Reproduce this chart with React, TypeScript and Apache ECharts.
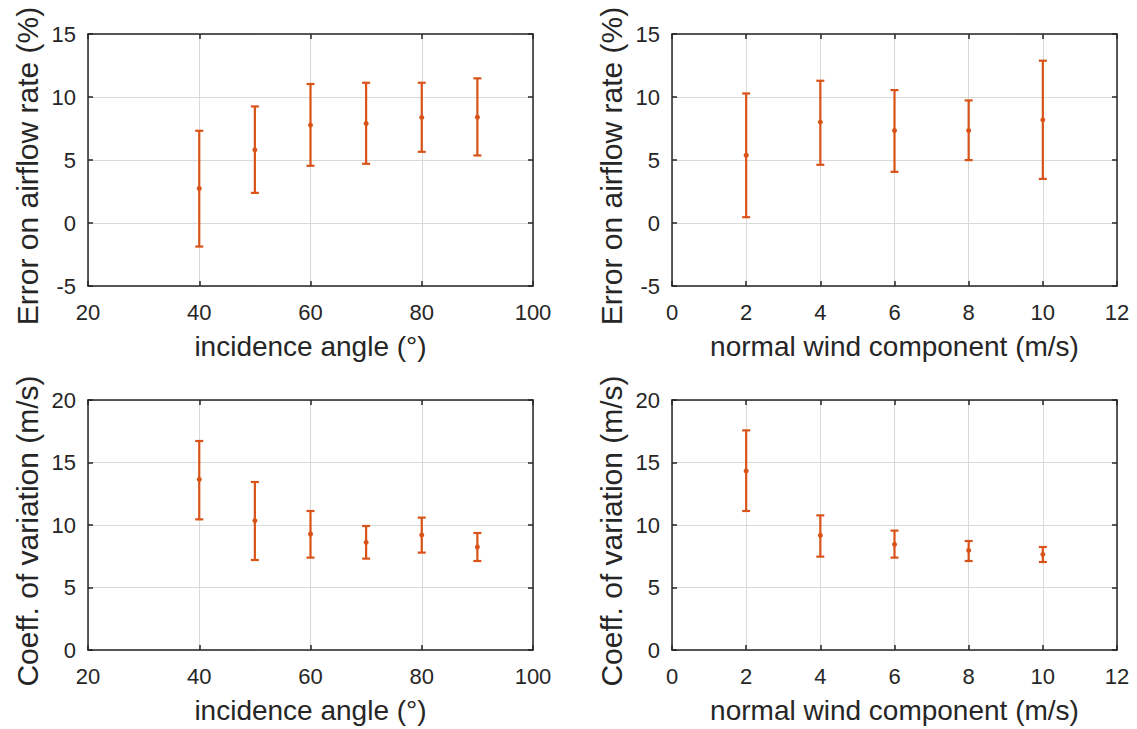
import React, { useEffect, useRef } from "react";
import * as echarts from "echarts";

const angle = [40, 50, 60, 70, 80, 90];
const errAngleMean = [2.74, 5.81, 7.77, 7.9, 8.38, 8.4];
const errAngleLow = [-1.87, 2.39, 4.54, 4.7, 5.65, 5.36];
const errAngleHigh = [7.32, 9.25, 11.03, 11.13, 11.13, 11.48];

const wind = [2, 4, 6, 8, 10];
const errWindMean = [5.38, 8.01, 7.34, 7.34, 8.19];
const errWindLow = [0.46, 4.62, 4.06, 4.99, 3.5];
const errWindHigh = [10.28, 11.29, 10.55, 9.73, 12.88];

const covAngleMean = [13.65, 10.35, 9.28, 8.61, 9.2, 8.24];
const covAngleLow = [10.45, 7.2, 7.39, 7.31, 7.79, 7.12];
const covAngleHigh = [16.72, 13.44, 11.12, 9.92, 10.59, 9.36];

const covWindMean = [14.32, 9.17, 8.45, 7.97, 7.65];
const covWindLow = [11.12, 7.47, 7.39, 7.12, 7.04];
const covWindHigh = [17.57, 10.77, 9.55, 8.72, 8.24];

const xNameAngle = "incidence angle (°)";
const xNameWind = "normal wind component (m/s)";
const yNameErr = "Error on airflow rate (%)";
const yNameCov = "Coeff. of variation (m/s)";

const TEXT = "#262626";
const BAR = "#D95319";
const FONT = "'Liberation Sans', Arial, sans-serif";

function rows(x: number[], m: number[], lo: number[], hi: number[]) {
  return x.map((v, i) => [v, m[i], lo[i], hi[i]]);
}

const renderItem = (params: any, api: any) => {
  const x = api.value(0);
  const c = api.coord([x, api.value(1)]);
  const lo = api.coord([x, api.value(2)]);
  const hi = api.coord([x, api.value(3)]);
  const hw = 4;
  const style = { stroke: BAR, lineWidth: 2.2 };
  return {
    type: "group",
    children: [
      { type: "line", shape: { x1: lo[0], y1: lo[1], x2: hi[0], y2: hi[1] }, style },
      { type: "line", shape: { x1: lo[0] - hw, y1: lo[1], x2: lo[0] + hw, y2: lo[1] }, style },
      { type: "line", shape: { x1: hi[0] - hw, y1: hi[1], x2: hi[0] + hw, y2: hi[1] }, style },
      { type: "circle", shape: { cx: c[0], cy: c[1], r: 2.5 }, style: { fill: BAR } },
    ],
  };
};

export default function App() {
  const ref = useRef<HTMLDivElement>(null);
  useEffect(() => {
    if (!ref.current) return;
    const chart = echarts.init(ref.current, null, { renderer: "svg" });

    const grids = [
      { left: 88, top: 34, width: 445, height: 252 },
      { left: 672, top: 34, width: 445, height: 252 },
      { left: 88, top: 400, width: 445, height: 250 },
      { left: 672, top: 400, width: 445, height: 250 },
    ];
    const xr = [
      { min: 20, max: 100, interval: 20, name: xNameAngle },
      { min: 0, max: 12, interval: 2, name: xNameWind },
      { min: 20, max: 100, interval: 20, name: xNameAngle },
      { min: 0, max: 12, interval: 2, name: xNameWind },
    ];
    const yr = [
      { min: -5, max: 15, interval: 5, name: yNameErr },
      { min: -5, max: 15, interval: 5, name: yNameErr },
      { min: 0, max: 20, interval: 5, name: yNameCov },
      { min: 0, max: 20, interval: 5, name: yNameCov },
    ];
    const data = [
      rows(angle, errAngleMean, errAngleLow, errAngleHigh),
      rows(wind, errWindMean, errWindLow, errWindHigh),
      rows(angle, covAngleMean, covAngleLow, covAngleHigh),
      rows(wind, covWindMean, covWindLow, covWindHigh),
    ];

    const axisLine = { show: true, onZero: false, lineStyle: { color: TEXT, width: 1.5 } };
    const axisTick = { show: true, inside: true, length: 5, lineStyle: { color: TEXT, width: 1.5 } };
    const splitLine = { show: true, lineStyle: { color: "#d9d9d9", width: 1 } };

    const xAxis: any[] = [];
    const yAxis: any[] = [];
    grids.forEach((_, i) => {
      xAxis.push({
        type: "value",
        gridIndex: i,
        position: "bottom",
        min: xr[i].min,
        max: xr[i].max,
        interval: xr[i].interval,
        name: xr[i].name,
        nameLocation: "middle",
        nameGap: 46,
        nameTextStyle: { color: TEXT, fontSize: 28, fontFamily: FONT },
        axisLine,
        axisTick,
        splitLine,
        axisLabel: { color: TEXT, fontSize: 22, fontFamily: FONT, margin: 15 },
      });
      xAxis.push({
        type: "value",
        gridIndex: i,
        position: "top",
        min: xr[i].min,
        max: xr[i].max,
        interval: xr[i].interval,
        axisLine,
        axisTick,
        splitLine: { show: false },
        axisLabel: { show: false },
      });
      yAxis.push({
        type: "value",
        gridIndex: i,
        position: "left",
        min: yr[i].min,
        max: yr[i].max,
        interval: yr[i].interval,
        name: yr[i].name,
        nameLocation: "middle",
        nameGap: 46,
        nameTextStyle: { color: TEXT, fontSize: 30, fontFamily: FONT, padding: [0, 12, 0, 0] },
        axisLine,
        axisTick,
        splitLine,
        axisLabel: { color: TEXT, fontSize: 22, fontFamily: FONT, margin: 12 },
      });
      yAxis.push({
        type: "value",
        gridIndex: i,
        position: "right",
        min: yr[i].min,
        max: yr[i].max,
        interval: yr[i].interval,
        axisLine,
        axisTick,
        splitLine: { show: false },
        axisLabel: { show: false },
      });
    });

    const series = data.map((d, i) => ({
      type: "custom",
      xAxisIndex: i * 2,
      yAxisIndex: i * 2,
      renderItem,
      encode: { x: 0, y: [1, 2, 3] },
      data: d,
      clip: false,
    }));

    chart.setOption({
      animation: false,
      backgroundColor: "#ffffff",
      grid: grids,
      xAxis,
      yAxis,
      series,
    });
    return () => chart.dispose();
  }, []);
  return (
    <div
      ref={ref}
      style={{ position: "absolute", left: 0, top: 0, width: 1137, height: 729 }}
    />
  );
}
